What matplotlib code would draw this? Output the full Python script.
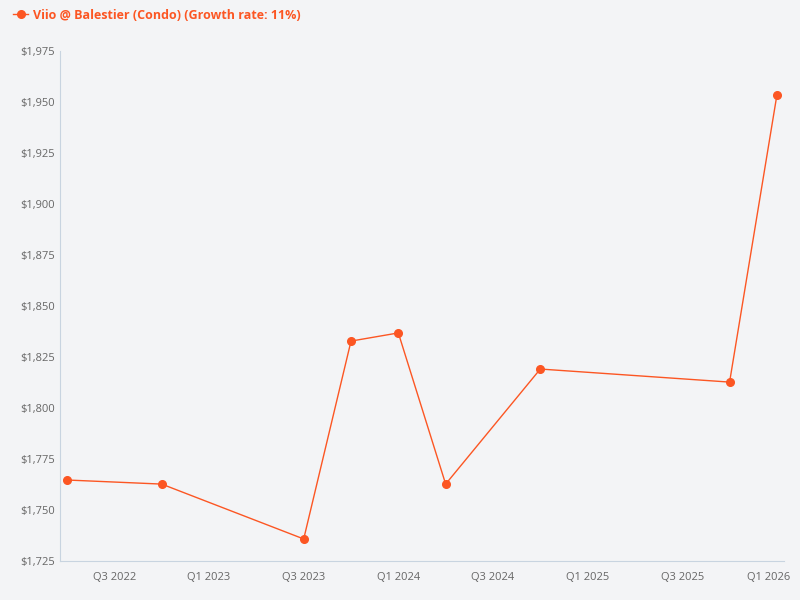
import matplotlib.pyplot as plt
from matplotlib.ticker import FuncFormatter
from matplotlib.transforms import ScaledTranslation

# quarter index: 0 = Q2 2022
quarters = [0, 2, 5, 6, 7, 8, 10, 14, 15]
prices = [1764.7, 1762.7, 1735.8, 1832.8, 1836.8, 1762.7, 1819.1, 1812.7, 1953.4]
tick_pos = [1, 3, 5, 7, 9, 11, 13, 15]
tick_labels = ["Q3 2022", "Q1 2023", "Q3 2023", "Q1 2024", "Q3 2024", "Q1 2025", "Q3 2025", "Q1 2026"]

color = "#fc5623"
bg = "#f3f4f6"

plt.rcParams['font.family'] = ['Open Sans', 'DejaVu Sans']
fig = plt.figure(figsize=(8, 6), dpi=100, facecolor=bg)
ax = fig.add_axes([0.075, 0.065, 0.905, 0.85], facecolor=bg)

ax.plot(quarters, prices, color=color, lw=1, marker="o", ms=5.5,
        label="Viio @ Balestier (Condo) (Growth rate: 11%)")

ax.set_xlim(-0.15, 15.15)
ax.set_ylim(1725, 1975)
ax.set_yticks(range(1725, 1976, 25))
ax.yaxis.set_major_formatter(FuncFormatter(lambda v, p: f"${v:,.0f}"))
ax.set_xticks(tick_pos)
ax.set_xticklabels(tick_labels)
ax.tick_params(colors="#666666", labelsize=8, length=0)
ax.tick_params(axis="x", pad=8)
last = ax.get_xticklabels()[-1]
last.set_transform(last.get_transform() + ScaledTranslation(-0.08, 0, fig.dpi_scale_trans))
for s in ["top", "right"]:
    ax.spines[s].set_visible(False)
for s in ["left", "bottom"]:
    ax.spines[s].set_color("#c8d4e0")

leg = ax.legend(loc="upper left", bbox_to_anchor=(-0.08, 1.105), frameon=False,
                fontsize=9, handlelength=1.2, handletextpad=0.4)
for t in leg.get_texts():
    t.set_color(color)
    t.set_fontweight("bold")

fig.savefig("out.png", facecolor=bg)
